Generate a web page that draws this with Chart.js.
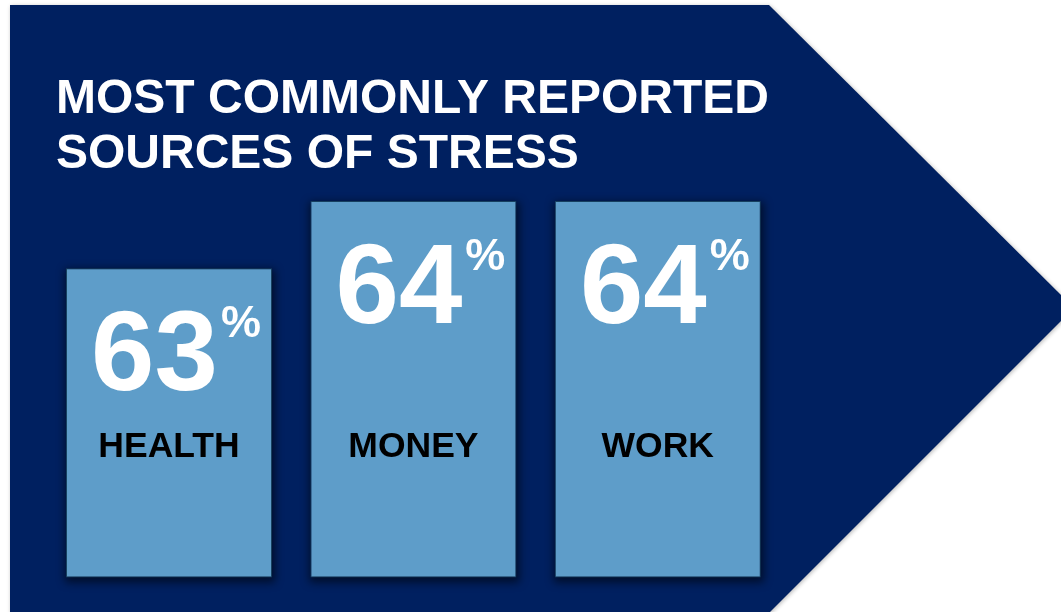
<!DOCTYPE html>
<html>
<head>
<meta charset="utf-8">
<script src="https://cdn.jsdelivr.net/npm/chart.js@4/dist/chart.umd.min.js"></script>
<style>
  html, body { margin: 0; padding: 0; background: #ffffff; }
  #wrap { width: 1061px; height: 612px; position: relative; }
</style>
</head>
<body>
<div id="wrap"><canvas id="c" width="1061" height="612"></canvas></div>
<script>
// Survey results: share of respondents naming each source of stress
const categories = ['HEALTH', 'MONEY', 'WORK'];
const shares = [63, 64, 64];
const titleLines = ['MOST COMMONLY REPORTED', 'SOURCES OF STRESS'];
const Y_MIN = 58.4;
const Y_MAX = 64;

const FONT = '"Liberation Sans", Arial, Helvetica, sans-serif';
const NAVY = '#002060';
const BAR = '#5e9dc9';

// Navy arrow-shaped panel behind everything, plus the heading
const panelPlugin = {
  id: 'panel',
  beforeDraw(chart) {
    const ctx = chart.ctx;
    const w = chart.width, h = chart.height;
    ctx.save();
    ctx.fillStyle = '#ffffff';
    ctx.fillRect(0, 0, w, h);
    ctx.shadowColor = 'rgba(0,0,0,0.28)';
    ctx.shadowBlur = 4;
    ctx.shadowOffsetX = 1;
    ctx.shadowOffsetY = 1;
    ctx.beginPath();
    ctx.moveTo(10, 5);
    ctx.lineTo(769, 5);
    ctx.lineTo(1074, 308);
    ctx.lineTo(768, 614);
    ctx.lineTo(10, 614);
    ctx.closePath();
    ctx.fillStyle = NAVY;
    ctx.fill();
    ctx.restore();

    ctx.save();
    ctx.fillStyle = '#ffffff';
    ctx.font = 'bold 48px ' + FONT;
    ctx.textAlign = 'left';
    ctx.textBaseline = 'alphabetic';
    ctx.fillText(titleLines[0], 56, 113);
    ctx.fillText(titleLines[1], 56, 168);
    ctx.restore();
  }
};

// Soft dark shadow behind each bar, taken from the bar elements' geometry
const barShadow = {
  id: 'barShadow',
  beforeDatasetsDraw(chart) {
    const ctx = chart.ctx;
    const meta = chart.getDatasetMeta(0);
    ctx.save();
    ctx.filter = 'blur(4px)';
    ctx.fillStyle = 'rgba(0,0,0,0.55)';
    meta.data.forEach((bar) => {
      const p = bar.getProps(['x', 'y', 'base', 'width'], true);
      ctx.fillRect(p.x - p.width / 2 - 1, p.y + 1, p.width + 4, p.base - p.y + 4);
    });
    ctx.restore();
  }
};

// Big percentage figures and category names inside each bar
const barLabels = {
  id: 'barLabels',
  afterDatasetsDraw(chart) {
    const ctx = chart.ctx;
    const meta = chart.getDatasetMeta(0);
    const area = chart.chartArea;
    meta.data.forEach((bar, i) => {
      const num = String(shares[i]);
      ctx.save();
      ctx.fillStyle = '#ffffff';
      ctx.textBaseline = 'alphabetic';
      ctx.textAlign = 'left';
      ctx.font = 'bold 114px ' + FONT;
      const nw = ctx.measureText(num).width;
      ctx.font = 'bold 45px ' + FONT;
      const pw = ctx.measureText('%').width;
      const gap = 3;
      const total = nw + gap + pw;
      const left = bar.x + 7 - total / 2;
      const base = bar.y + 122;
      ctx.font = 'bold 114px ' + FONT;
      ctx.fillText(num, left, base);
      ctx.font = 'bold 45px ' + FONT;
      ctx.fillText('%', left + nw + gap, base - 53);

      ctx.fillStyle = '#000000';
      ctx.textAlign = 'center';
      ctx.font = 'bold 35.5px ' + FONT;
      ctx.fillText(categories[i], bar.x, area.bottom - 120.5);
      ctx.restore();
    });
  }
};

new Chart(document.getElementById('c'), {
  type: 'bar',
  data: {
    labels: categories,
    datasets: [{
      data: shares,
      base: Y_MIN,
      backgroundColor: BAR,
      borderColor: '#17405f',
      borderWidth: 1,
      borderSkipped: false,
      barPercentage: 1,
      categoryPercentage: 0.843,
      clip: false
    }]
  },
  options: {
    responsive: false,
    devicePixelRatio: 1,
    animation: false,
    layout: { padding: { left: 46.8, right: 281, top: 201, bottom: 34.5 } },
    plugins: {
      legend: { display: false },
      title: { display: false },
      tooltip: { enabled: false }
    },
    scales: {
      x: { display: false },
      y: { display: false, min: Y_MIN, max: Y_MAX }
    }
  },
  plugins: [panelPlugin, barShadow, barLabels]
});
</script>
</body>
</html>
